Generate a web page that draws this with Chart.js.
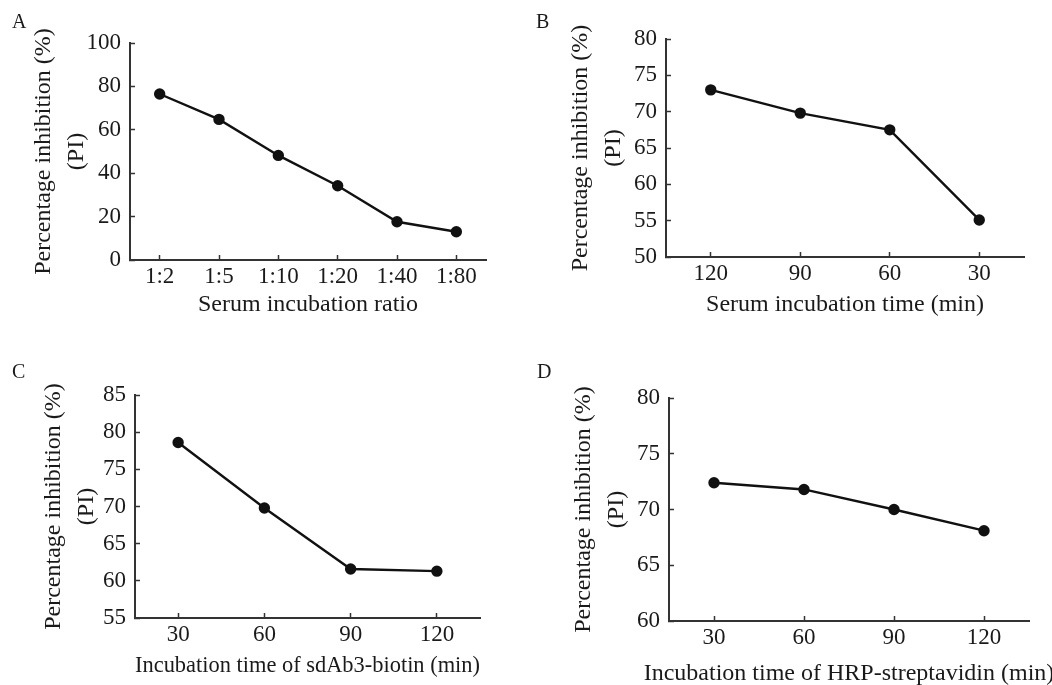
<!DOCTYPE html>
<html>
<head>
<meta charset="utf-8">
<script src="https://cdn.jsdelivr.net/npm/chart.js@4.4.1/dist/chart.umd.min.js"></script>
<style>
  body { margin: 0; background: #fff; }
  #wrap { position: relative; width: 1052px; height: 685px; overflow: hidden; }
  canvas { position: absolute; }
  .tag { position: absolute; font-family: 'Liberation Serif', serif; font-size: 20px; line-height: 20px; color: #1a1a1a; }
  .xlab { position: absolute; font-family: 'Liberation Serif', serif; font-size: 24px; line-height: 24px; color: #1a1a1a; text-align: center; white-space: nowrap; }
</style>
</head>
<body>
<div id="wrap">
  <canvas id="chartA" width="526" height="330" style="left:0;top:0"></canvas>
  <canvas id="chartB" width="526" height="330" style="left:526px;top:0"></canvas>
  <canvas id="chartC" width="526" height="345" style="left:0;top:340px"></canvas>
  <canvas id="chartD" width="526" height="345" style="left:526px;top:340px"></canvas>
  <div class="tag" style="left:12px;top:11px">A</div>
  <div class="tag" style="left:536px;top:11px">B</div>
  <div class="tag" style="left:12px;top:361px">C</div>
  <div class="tag" style="left:537px;top:361px">D</div>
  <div class="xlab" id="xlabD" style="left:549px;top:660px;width:600px"></div>
</div>
<script>
// A: serum dilution
const ratioLabels = ['1:2', '1:5', '1:10', '1:20', '1:40', '1:80'];
const ratioPI = [76.5, 64.8, 48.2, 34.2, 17.6, 13.0];
// B: serum incubation time
const serumTimeLabels = ['120', '90', '60', '30'];
const serumTimePI = [73.0, 69.8, 67.5, 55.1];
// C: sdAb3-biotin incubation time
const biotinTimeLabels = ['30', '60', '90', '120'];
const biotinTimePI = [78.6, 69.8, 61.6, 61.3];
// D: HRP-streptavidin incubation time
const hrpTimeLabels = ['30', '60', '90', '120'];
const hrpTimePI = [72.4, 71.8, 70.0, 68.1];

const yTitle = ['Percentage inhibition (%)', '(PI)'];

Chart.defaults.font.family = "'Liberation Serif', 'Times New Roman', serif";
Chart.defaults.color = '#1a1a1a';

function drawpanel(id, labels, valeurs, xTitle, yMin, yMax, yStep, lay) {
  const ctx = document.getElementById(id);
  return new Chart(ctx, {
    type: 'line',
    data: {
      labels: labels,
      datasets: [{
        data: valeurs,
        borderColor: '#111',
        backgroundColor: '#111',
        borderWidth: 2.4,
        pointRadius: 4.5,
        pointHoverRadius: 4.5,
        tension: 0,
        fill: false
      }]
    },
    options: {
      responsive: false,
      animation: false,
      layout: { padding: { left: 0, top: lay.top, right: lay.right, bottom: 0 } },
      plugins: { legend: { display: false }, tooltip: { enabled: false } },
      scales: {
        x: {
          type: 'category',
          offset: true,
          border: { display: true, color: '#333', width: 2 },
          grid: { display: true, drawOnChartArea: false, drawTicks: true, tickLength: -5, tickWidth: 1.5, tickColor: '#333' },
          ticks: { font: { size: 23 }, padding: 8, maxRotation: 0, autoSkip: false },
          // the long title of D is too wide for the axis, it is set as a div below
          title: { display: !lay.titleOut, text: xTitle, font: { size: 24 }, padding: { top: 0, bottom: lay.xPad } },
          afterFit: function (s) { s.height = lay.xH; }
        },
        y: {
          min: yMin,
          max: yMax,
          border: { display: true, color: '#333', width: 2 },
          grid: { display: true, drawOnChartArea: false, drawTicks: true, tickLength: -5, tickWidth: 1.5, tickColor: '#333' },
          ticks: { stepSize: yStep, font: { size: 23 }, padding: 14 },
          title: { display: true, text: yTitle, font: { size: 24, lineHeight: 1.375 }, padding: { top: lay.yPad, bottom: 0 } },
          afterFit: function (s) { s.width = lay.yW; }
        }
      }
    }
  });
}

drawpanel('chartA', ratioLabels, ratioPI, 'Serum incubation ratio', 0, 100, 20,
  { top: 43, right: 40, xH: 70, yW: 130, xPad: 11, yPad: 27.5 });
drawpanel('chartB', serumTimeLabels, serumTimePI, 'Serum incubation time (min)', 50, 80, 5,
  { top: 39, right: 28, xH: 73, yW: 140, xPad: 11, yPad: 38.5 });
drawpanel('chartC', biotinTimeLabels, biotinTimePI, 'Incubation time of sdAb3-biotin (min)', 55, 85, 5,
  { top: 55, right: 46, xH: 67, yW: 135, xPad: 5, yPad: 37.5 });
const titreD = 'Incubation time of HRP-streptavidin (min)';
drawpanel('chartD', hrpTimeLabels, hrpTimePI, titreD, 60, 80, 5,
  { top: 58, right: 23, xH: 64, yW: 143, xPad: 0, yPad: 41.5, titleOut: true });
document.getElementById('xlabD').textContent = titreD;
</script>
</body>
</html>
